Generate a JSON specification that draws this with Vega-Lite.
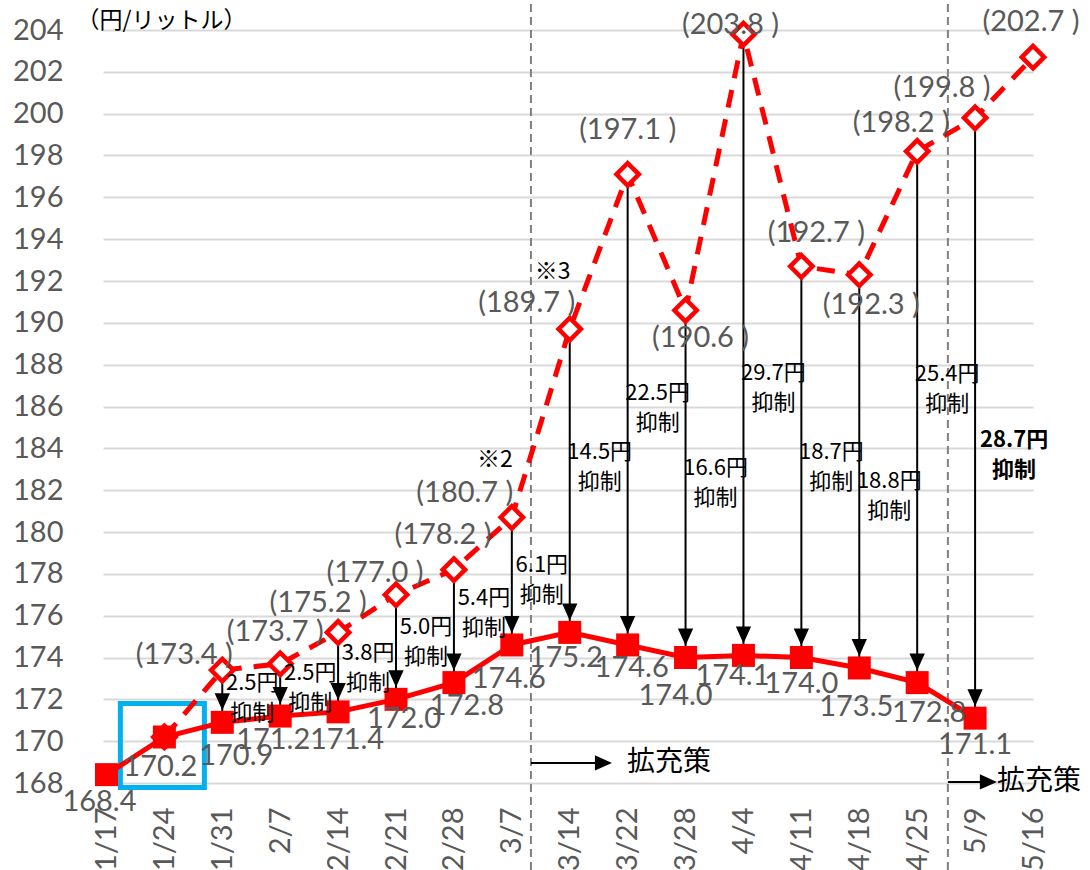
{
  "$schema": "https://vega.github.io/schema/vega-lite/v6.json",
  "width": 930,
  "height": 753,
  "autosize": "none",
  "padding": {"left": 103, "top": 30, "right": 57, "bottom": 87},
  "background": "#ffffff",
  "config": {
    "view": {"stroke": null},
    "locale": {"number": {"decimal": ".", "thousands": ",", "grouping": [3], "currency": ["(", " )"]}},
    "axisY": {
      "grid": true,
      "gridColor": "#D9D9D9",
      "gridWidth": 2,
      "domain": false,
      "ticks": false,
      "labelFont": "Lato",
      "labelFontSize": 29,
      "labelColor": "#595959",
      "labelPadding": 40,
      "labelFlush": false,
      "labelOverlap": false,
      "tickCount": 18,
      "title": null
    }
  },
  "datasets": {
    "pts": [
      {"i": 0, "d": "1/17", "a": 168.4, "p": null, "lab": null, "note": null},
      {"i": 1, "d": "1/24", "a": 170.2, "p": 170.2, "lab": null, "note": null},
      {"i": 2, "d": "1/31", "a": 170.9, "p": 173.4, "lab": "2.5円\n抑制", "note": null},
      {"i": 3, "d": "2/7", "a": 171.2, "p": 173.7, "lab": "2.5円\n抑制", "note": null},
      {"i": 4, "d": "2/14", "a": 171.4, "p": 175.2, "lab": "3.8円\n抑制", "note": null},
      {"i": 5, "d": "2/21", "a": 172.0, "p": 177.0, "lab": "5.0円\n抑制", "note": null},
      {"i": 6, "d": "2/28", "a": 172.8, "p": 178.2, "lab": "5.4円\n抑制", "note": null},
      {"i": 7, "d": "3/7", "a": 174.6, "p": 180.7, "lab": "6.1円\n抑制", "note": "※2"},
      {"i": 8, "d": "3/14", "a": 175.2, "p": 189.7, "lab": "14.5円\n抑制", "note": "※3"},
      {"i": 9, "d": "3/22", "a": 174.6, "p": 197.1, "lab": "22.5円\n抑制", "note": null},
      {"i": 10, "d": "3/28", "a": 174.0, "p": 190.6, "lab": "16.6円\n抑制", "note": null},
      {"i": 11, "d": "4/4", "a": 174.1, "p": 203.8, "lab": "29.7円\n抑制", "note": null},
      {"i": 12, "d": "4/11", "a": 174.0, "p": 192.7, "lab": "18.7円\n抑制", "note": null},
      {"i": 13, "d": "4/18", "a": 173.5, "p": 192.3, "lab": "18.8円\n抑制", "note": null},
      {"i": 14, "d": "4/25", "a": 172.8, "p": 198.2, "lab": "25.4円\n抑制", "note": null},
      {"i": 15, "d": "5/9", "a": 171.1, "p": 199.8, "lab": "28.7円\n抑制", "note": null},
      {"i": 16, "d": "5/16", "a": null, "p": 202.7, "lab": null, "note": null}
    ],
    "ev": [
      {"i": 7.33, "lab": "拡充策"},
      {"i": 14.53, "lab": "拡充策"}
    ]
  },
  "data": {"name": "pts"},
  "encoding": {
    "x": {
      "field": "i",
      "type": "quantitative",
      "scale": {"domain": [-0.06, 16], "nice": false, "zero": false},
      "axis": {
        "values": [0, 1, 2, 3, 4, 5, 6, 7, 8, 9, 10, 11, 12, 13, 14, 15, 16],
        "labelExpr": "['1/17','1/24','1/31','2/7','2/14','2/21','2/28','3/7','3/14','3/22','3/28','4/4','4/11','4/18','4/25','5/9','5/16'][datum.value]",
        "labelAngle": 270,
        "labelFont": "Lato",
        "labelFontSize": 29,
        "labelColor": "#595959",
        "labelPadding": 24,
        "labelOverlap": false,
        "labelBound": false,
        "labelFlush": false,
        "domain": false,
        "ticks": false,
        "grid": false,
        "title": null
      }
    }
  },
  "layer": [
    {
      "data": {"name": "ev"},
      "mark": {"type": "rule", "color": "#808080", "strokeWidth": 2, "strokeDash": [8, 5], "yOffset": 87, "y2Offset": -30},
      "encoding": {
        "y": {"datum": 168, "type": "quantitative", "scale": {"domain": [168, 204], "nice": false, "zero": false}, "axis": {"title": null}},
        "y2": {"datum": 204}
      }
    },
    {
      "data": {"name": "ev"},
      "transform": [{"filter": "datum.i < 10"}],
      "mark": {"type": "rule", "color": "#000000", "strokeWidth": 2, "x2Offset": 68},
      "encoding": {
        "x2": {"field": "i"},
        "y": {"datum": 168.96, "type": "quantitative", "scale": {"domain": [168, 204], "nice": false, "zero": false}, "axis": {"title": null}}
      }
    },
    {
      "data": {"name": "ev"},
      "transform": [{"filter": "datum.i < 10"}],
      "mark": {"type": "point", "shape": "M-2,-0.9L0,0L-2,0.9Z", "size": 289, "filled": true, "color": "#000000", "opacity": 1, "xOffset": 81},
      "encoding": {
        "y": {"datum": 168.96, "type": "quantitative", "scale": {"domain": [168, 204], "nice": false, "zero": false}, "axis": {"title": null}}
      }
    },
    {
      "data": {"name": "ev"},
      "transform": [{"filter": "datum.i < 10"}],
      "mark": {"type": "text", "font": "Noto Sans CJK JP", "fontSize": 28, "color": "#000000", "align": "left", "baseline": "middle", "dx": 96},
      "encoding": {
        "y": {"datum": 168.96, "type": "quantitative", "scale": {"domain": [168, 204], "nice": false, "zero": false}, "axis": {"title": null}},
        "text": {"field": "lab"}
      }
    },
    {
      "data": {"name": "ev"},
      "transform": [{"filter": "datum.i > 10"}],
      "mark": {"type": "rule", "color": "#000000", "strokeWidth": 2, "x2Offset": 36},
      "encoding": {
        "x2": {"field": "i"},
        "y": {"datum": 168.05, "type": "quantitative", "scale": {"domain": [168, 204], "nice": false, "zero": false}, "axis": {"title": null}}
      }
    },
    {
      "data": {"name": "ev"},
      "transform": [{"filter": "datum.i > 10"}],
      "mark": {"type": "point", "shape": "M-2,-0.9L0,0L-2,0.9Z", "size": 289, "filled": true, "color": "#000000", "opacity": 1, "xOffset": 49},
      "encoding": {
        "y": {"datum": 168.05, "type": "quantitative", "scale": {"domain": [168, 204], "nice": false, "zero": false}, "axis": {"title": null}}
      }
    },
    {
      "data": {"name": "ev"},
      "transform": [{"filter": "datum.i > 10"}],
      "mark": {"type": "text", "font": "Noto Sans CJK JP", "fontSize": 28, "color": "#000000", "align": "left", "baseline": "middle", "dx": 49},
      "encoding": {
        "y": {"datum": 168.05, "type": "quantitative", "scale": {"domain": [168, 204], "nice": false, "zero": false}, "axis": {"title": null}},
        "text": {"field": "lab"}
      }
    },
    {
      "transform": [{"filter": "datum.i == 1"}],
      "mark": {"type": "point", "shape": "square", "size": 7056, "filled": false, "stroke": "#00B0F0", "strokeWidth": 5, "opacity": 1, "xOffset": -2, "yOffset": 8.5},
      "encoding": {
        "y": {"field": "a", "type": "quantitative", "scale": {"domain": [168, 204], "nice": false, "zero": false}, "axis": {"title": null}}
      }
    },
    {
      "transform": [{"filter": "datum.lab != null"}],
      "mark": {"type": "rule", "color": "#000000", "strokeWidth": 2},
      "encoding": {
        "y": {"field": "p", "type": "quantitative", "scale": {"domain": [168, 204], "nice": false, "zero": false}, "axis": {"title": null}},
        "y2": {"field": "a"}
      }
    },
    {
      "transform": [{"filter": "datum.lab != null"}],
      "mark": {"type": "point", "shape": "M-0.9,-2L0.9,-2L0,0Z", "size": 289, "filled": true, "color": "#000000", "opacity": 1, "yOffset": -12},
      "encoding": {
        "y": {"field": "a", "type": "quantitative", "scale": {"domain": [168, 204], "nice": false, "zero": false}, "axis": {"title": null}}
      }
    },
    {
      "transform": [{"filter": "datum.p != null"}],
      "mark": {"type": "line", "color": "#FF0000", "strokeWidth": 5, "strokeDash": [18, 12]},
      "encoding": {
        "y": {"field": "p", "type": "quantitative", "scale": {"domain": [168, 204], "nice": false, "zero": false}, "axis": {"title": null}}
      }
    },
    {
      "transform": [{"filter": "datum.p != null"}],
      "mark": {"type": "point", "shape": "diamond", "size": 500, "filled": true, "fill": "#FFFFFF", "stroke": "#FF0000", "strokeWidth": 4.5, "opacity": 1},
      "encoding": {
        "y": {"field": "p", "type": "quantitative", "scale": {"domain": [168, 204], "nice": false, "zero": false}, "axis": {"title": null}}
      }
    },
    {
      "transform": [{"filter": "datum.a != null"}],
      "mark": {"type": "line", "color": "#FF0000", "strokeWidth": 5},
      "encoding": {
        "y": {"field": "a", "type": "quantitative", "scale": {"domain": [168, 204], "nice": false, "zero": false}, "axis": {"title": null}}
      }
    },
    {
      "transform": [{"filter": "datum.a != null"}],
      "mark": {"type": "point", "shape": "square", "size": 529, "filled": true, "color": "#FF0000", "opacity": 1},
      "encoding": {
        "y": {"field": "a", "type": "quantitative", "scale": {"domain": [168, 204], "nice": false, "zero": false}, "axis": {"title": null}}
      }
    },
    {
      "transform": [{"filter": "datum.a != null"}],
      "mark": {
        "type": "text", "font": "Lato", "fontSize": 29, "color": "#595959", "align": "center", "baseline": "middle",
        "dx": {"expr": "[-7,-4,14,-7,9,8,13,-3,-4,4,-10,-11,0,-3,12,0,0][datum.i]"},
        "dy": {"expr": "[27,30,34,24,28,20,23,34,26,23,38,21,26,39,30,27,0][datum.i]"}
      },
      "encoding": {
        "y": {"field": "a", "type": "quantitative", "scale": {"domain": [168, 204], "nice": false, "zero": false}, "axis": {"title": null}},
        "text": {"field": "a", "format": ".1f"}
      }
    },
    {
      "transform": [{"filter": "datum.p != null && datum.i >= 2"}],
      "mark": {
        "type": "text", "font": "Lato", "fontSize": 29, "color": "#595959", "align": "center", "baseline": "middle",
        "dx": {"expr": "[0,0,-38,-5,-20,-21,-11,-47,-43,0,15,-13,15,12,-16,-33,-2][datum.i]"},
        "dy": {"expr": "[0,0,-15,-32,-29,-22,-35,-24,-26,-44,28,-9,-33,30,-28,-30,-35][datum.i]"}
      },
      "encoding": {
        "y": {"field": "p", "type": "quantitative", "scale": {"domain": [168, 204], "nice": false, "zero": false}, "axis": {"title": null}},
        "text": {"field": "p", "format": "$.1f"}
      }
    },
    {
      "transform": [
        {"filter": "datum.lab != null && datum.i != 15"},
        {"fold": ["p", "a"], "as": ["k", "v"]}
      ],
      "mark": {
        "type": "text", "font": "Noto Sans CJK JP", "fontSize": 22, "color": "#000000", "align": "center", "baseline": "middle", "lineBreak": "\n", "lineHeight": 30,
        "dx": 30,
        "dy": {"expr": "[0,0,-13,-17,-19,-20,-28,-16,-29,-17,-16,28,-10,10,-43,22,0][datum.i]"}
      },
      "encoding": {
        "y": {"aggregate": "mean", "field": "v", "type": "quantitative", "scale": {"domain": [168, 204], "nice": false, "zero": false}, "axis": {"title": null}},
        "text": {"field": "lab"}
      }
    },
    {
      "transform": [
        {"filter": "datum.i == 15"},
        {"fold": ["p", "a"], "as": ["k", "v"]}
      ],
      "mark": {"type": "text", "font": "Noto Sans CJK JP", "fontSize": 22, "fontWeight": "bold", "color": "#000000", "align": "center", "baseline": "middle", "lineBreak": "\n", "lineHeight": 30, "dx": 39, "dy": 22},
      "encoding": {
        "y": {"aggregate": "mean", "field": "v", "type": "quantitative", "scale": {"domain": [168, 204], "nice": false, "zero": false}, "axis": {"title": null}},
        "text": {"field": "lab"}
      }
    },
    {
      "transform": [{"filter": "datum.note != null"}],
      "mark": {"type": "text", "font": "Noto Sans CJK JP", "fontSize": 23, "color": "#000000", "align": "center", "baseline": "middle", "dx": -17, "dy": -57},
      "encoding": {
        "y": {"field": "p", "type": "quantitative", "scale": {"domain": [168, 204], "nice": false, "zero": false}, "axis": {"title": null}},
        "text": {"field": "note"}
      }
    },
    {
      "transform": [{"filter": "datum.i == 0"}],
      "mark": {"type": "text", "font": "Noto Sans CJK JP", "fontSize": 23, "color": "#000000", "align": "left", "baseline": "middle", "dx": -30, "dy": -9},
      "encoding": {
        "y": {"datum": 204, "type": "quantitative", "scale": {"domain": [168, 204], "nice": false, "zero": false}, "axis": {"title": null}},
        "text": {"value": "（円/リットル）"}
      }
    }
  ]
}
